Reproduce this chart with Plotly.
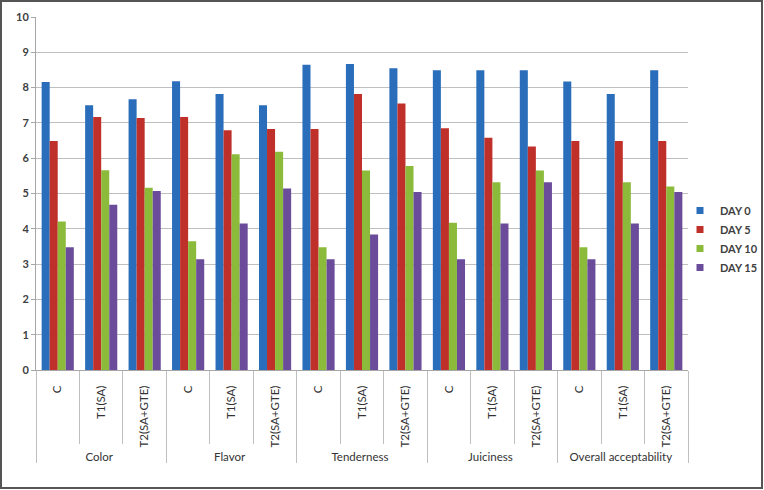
import plotly.graph_objects as go

attributes = ["Color", "Flavor", "Tenderness", "Juiciness", "Overall acceptability"]
treatments = ["C", "T1(SA)", "T2(SA+GTE)"]
series_names = ["DAY 0", "DAY 5", "DAY 10", "DAY 15"]

day0 = [8.16, 7.50, 7.67, 8.18, 7.82, 7.50, 8.65, 8.67, 8.55, 8.49, 8.49, 8.49, 8.17, 7.82, 8.49]
day5 = [6.49, 7.17, 7.14, 7.17, 6.79, 6.83, 6.83, 7.82, 7.55, 6.85, 6.58, 6.33, 6.49, 6.49, 6.49]
day10 = [4.21, 5.66, 5.16, 3.65, 6.11, 6.18, 3.48, 5.65, 5.78, 4.17, 5.32, 5.65, 3.48, 5.32, 5.20]
day15 = [3.48, 4.68, 5.07, 3.14, 4.15, 5.14, 3.14, 3.84, 5.04, 3.14, 4.15, 5.32, 3.14, 4.15, 5.04]

colors = ["#2A6EBB", "#C0302A", "#8CBB3C", "#6B4C9A"]

outer = [a for a in attributes for _ in treatments]
inner = [t for _ in attributes for t in treatments]

fig = go.Figure()
for name, vals, col in zip(series_names, [day0, day5, day10, day15], colors):
    fig.add_trace(go.Bar(x=[outer, inner], y=vals, name=name, marker_color=col,
                         marker_line_width=0, showlegend=False, legendgroup=name))
# legend entries with small square swatches
for name, col in zip(series_names, colors):
    fig.add_trace(go.Scatter(x=[None], y=[None], mode="markers", name=name, legendgroup=name,
                             marker=dict(symbol="square", size=7, color=col), showlegend=True))

L, R, T, B = 36, 76, 17, 120
W, H = 764, 490
pw, ph = W - L - R, H - T - B

fig.update_layout(
    width=W, height=H,
    margin=dict(l=L, r=R, t=T, b=B, autoexpand=False),
    paper_bgcolor="white", plot_bgcolor="white",
    barmode="group", bargap=0.26, bargroupgap=0,
    font=dict(family="Lato", size=11, color="#404040"),
    legend=dict(x=(680 - L) / pw, y=(370 - 239) / ph, xanchor="left", yanchor="middle",
                font=dict(size=11, family="Lato", color="#404040", weight="bold"),
                tracegroupgap=0, itemwidth=30, bgcolor="rgba(0,0,0,0)"),
    showlegend=True,
    shapes=[dict(type="rect", xref="paper", yref="paper",
                 x0=-(L - 1) / pw, x1=1 + (R - 2) / pw,
                 y0=-(B - 2) / ph, y1=1 + (T - 1) / ph,
                 line=dict(color="#555555", width=2), fillcolor="rgba(0,0,0,0)", layer="below")],
)
fig.update_xaxes(
    type="multicategory", tickangle=-90, automargin=False,
    showline=True, linecolor="#A6A6A6", linewidth=1,
    ticks="outside", tickson="boundaries", ticklen=73, tickcolor="#BFBFBF",
    ticklabelstandoff=10,
    showdividers=True, dividercolor="#BFBFBF", dividerwidth=1,
    tickfont=dict(size=11.5, family="Lato", color="#333333"),
    showgrid=False,
)
fig.update_yaxes(
    range=[0, 10], dtick=1, showgrid=True, gridcolor="#BFBFBF", gridwidth=1, automargin=False,
    showline=True, linecolor="#A6A6A6", ticks="outside", ticklen=4, tickcolor="#A6A6A6",
    tickfont=dict(size=11, family="Lato", color="#404040", weight="bold"),
    zeroline=False,
)

fig.write_html("out.html", config={"displayModeBar": False},
               post_script="document.body.style.margin='0';document.body.style.padding='0';")
